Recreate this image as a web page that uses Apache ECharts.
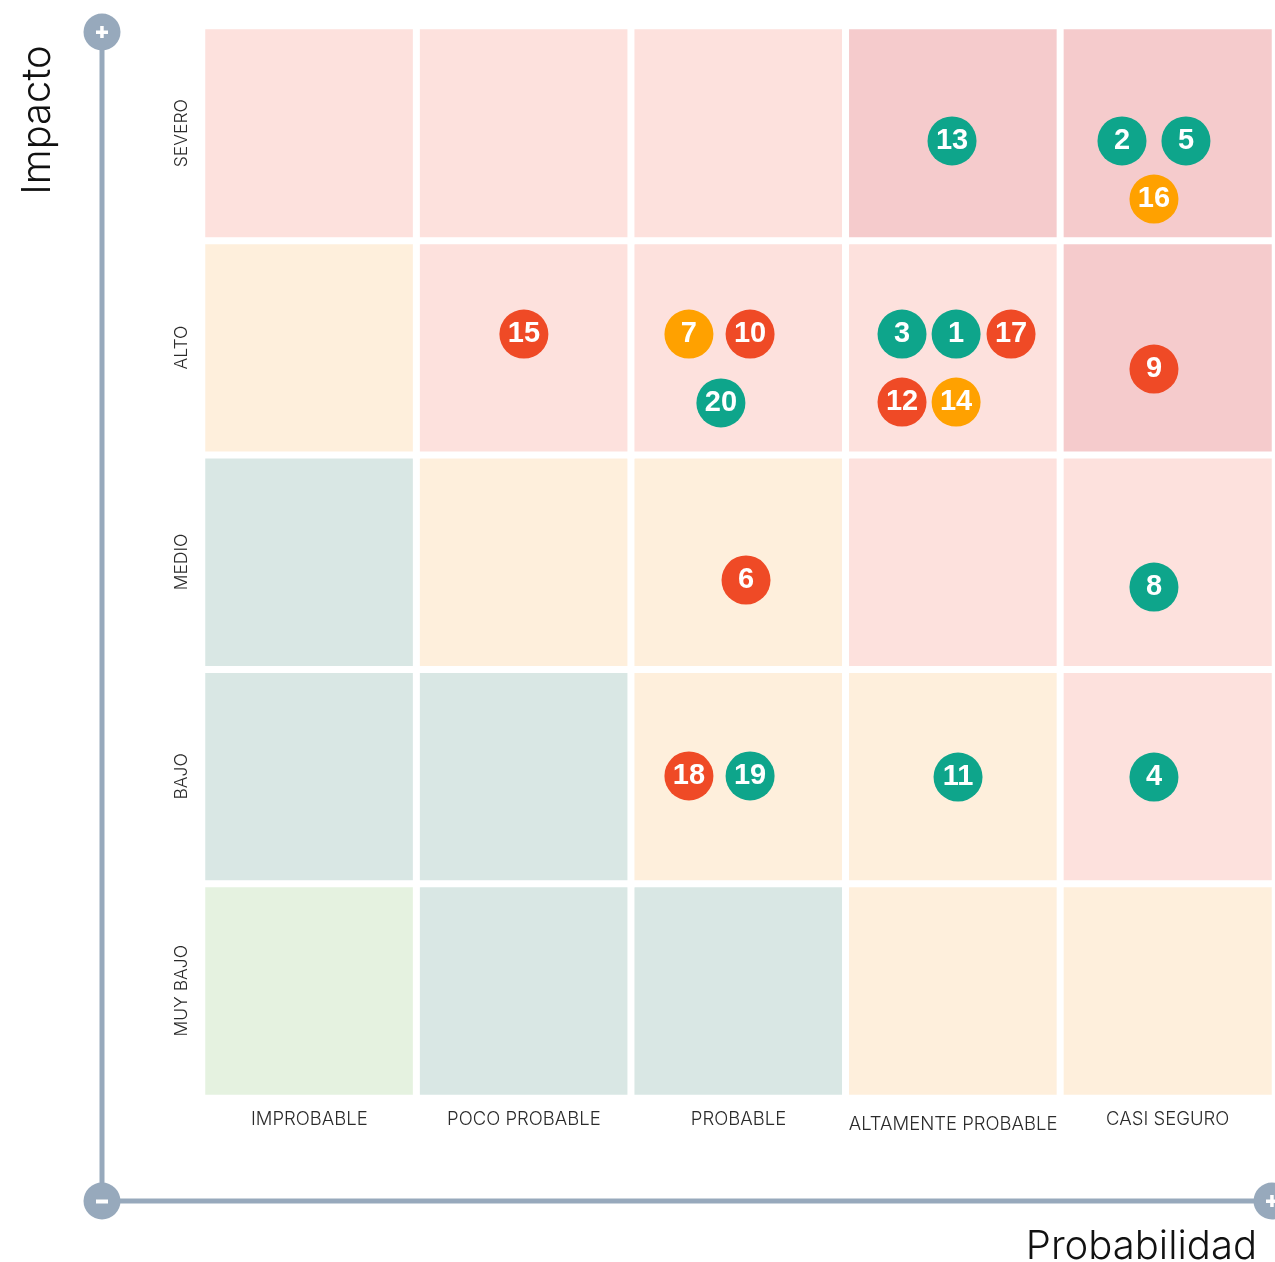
<!DOCTYPE html>
<html>
<head>
<meta charset="utf-8">
<script src="https://cdn.jsdelivr.net/npm/echarts@6/dist/echarts.min.js"></script>
<style>
html,body{margin:0;padding:0;background:#fff;}
#chart{width:1275px;height:1262px;}
</style>
</head>
<body>
<div id="chart"></div>
<script>
// Categories
const probCats = ['IMPROBABLE', 'POCO PROBABLE', 'PROBABLE', 'ALTAMENTE PROBABLE', 'CASI SEGURO'];
const impactCats = ['MUY BAJO', 'BAJO', 'MEDIO', 'ALTO', 'SEVERO']; // bottom to top

// Risk level of each matrix cell (rows: impact bottom->top, cols: probability left->right)
const levelMuyBajo = [0, 1, 1, 2, 2];
const levelBajo    = [1, 1, 2, 2, 3];
const levelMedio   = [1, 2, 2, 3, 3];
const levelAlto    = [2, 3, 3, 3, 4];
const levelSevero  = [3, 3, 3, 4, 4];
const levelRows = [levelMuyBajo, levelBajo, levelMedio, levelAlto, levelSevero];
const levelColors = ['#e5f2e0', '#d9e7e4', '#feefdc', '#fde1dd', '#f5cbcc'];

// Risks: id, position (probability, impact) in axis units, status
const riskIds  = [13, 2, 5, 16, 15, 7, 10, 20, 3, 1, 17, 12, 14, 9, 6, 8, 18, 19, 11, 4];
const riskProb = [3.495, 4.287, 4.585, 4.436, 1.500, 2.269, 2.554, 2.418, 3.262, 3.514, 3.770, 3.262, 3.514, 4.436, 2.535, 4.436, 2.269, 2.554, 3.523, 4.436];
const riskImp  = [4.464, 4.464, 4.464, 4.193, 3.563, 3.563, 3.563, 3.242, 3.563, 3.563, 3.563, 3.246, 3.246, 3.400, 2.416, 2.383, 1.502, 1.502, 1.497, 1.497];
const riskStatus = ['g','g','g','o','r','o','r','g','g','g','r','r','o','r','r','g','r','g','g','g'];
const statusColors = { g: '#0ea58b', r: '#ef4a26', o: '#ffa100' };

const heatData = [];
levelRows.forEach((row, yi) => row.forEach((lv, xi) => heatData.push([xi, yi, lv])));

function riskSeries(st) {
  const data = [];
  riskIds.forEach((id, i) => {
    if (riskStatus[i] === st) data.push({ value: [riskProb[i], riskImp[i]], name: String(id) });
  });
  return {
    type: 'scatter', xAxisIndex: 1, yAxisIndex: 1, symbol: 'circle', symbolSize: 49,
    itemStyle: { color: statusColors[st], opacity: 1 },
    label: {
      show: true, position: 'inside', formatter: p => p.name,
      color: '#fff', fontFamily: 'Liberation Sans, Arial, sans-serif', fontWeight: 'bold', fontSize: 29
    },
    emphasis: { disabled: true },
    data: data, z: 5
  };
}

const axisColor = '#97a9bc';
const lblFont = 'Inter, "Noto Sans", sans-serif';

const xCatData = probCats.map(c => c === 'ALTAMENTE PROBABLE'
  ? { value: c, textStyle: { padding: [5, 0, 0, 0] } } : c);

const chart = echarts.init(document.getElementById('chart'), null, { renderer: 'canvas' });
chart.setOption({
  animation: false,
  grid: { left: 202, top: 26, width: 1075, height: 1072 },
  xAxis: [
    { type: 'category', data: xCatData, position: 'bottom',
      axisLine: { show: false }, axisTick: { show: false }, splitLine: { show: false },
      axisLabel: { interval: 0, margin: 12, color: '#2b2b2b', fontSize: 18.5, fontFamily: lblFont, fontWeight: 300 } },
    { type: 'value', min: 0, max: 5, show: false }
  ],
  yAxis: [
    { type: 'category', data: impactCats,
      axisLine: { show: false }, axisTick: { show: false }, splitLine: { show: false },
      axisLabel: { interval: 0, rotate: 90, margin: 11, color: '#2b2b2b', fontSize: 17.5, fontFamily: lblFont, fontWeight: 300 } },
    { type: 'value', min: 0, max: 5, show: false }
  ],
  visualMap: {
    show: false, type: 'piecewise', dimension: 2, seriesIndex: 0,
    pieces: levelColors.map((c, i) => ({ value: i, color: c }))
  },
  series: [
    { type: 'heatmap', xAxisIndex: 0, yAxisIndex: 0, data: heatData,
      itemStyle: { borderColor: '#fff', borderWidth: 7 }, emphasis: { disabled: true } },
    riskSeries('g'), riskSeries('r'), riskSeries('o')
  ],
  graphic: [
    { type: 'line', shape: { x1: 102, y1: 32, x2: 102, y2: 1201 }, style: { stroke: axisColor, lineWidth: 5 } },
    { type: 'line', shape: { x1: 102, y1: 1201, x2: 1272, y2: 1201 }, style: { stroke: axisColor, lineWidth: 5 } },
    { type: 'circle', shape: { cx: 102, cy: 32, r: 18.5 }, style: { fill: axisColor } },
    { type: 'rect', shape: { x: 96, y: 30.5, width: 12, height: 3.5 }, style: { fill: '#fff' } },
    { type: 'rect', shape: { x: 100.2, y: 26, width: 3.5, height: 12 }, style: { fill: '#fff' } },
    { type: 'circle', shape: { cx: 102, cy: 1201, r: 18.5 }, style: { fill: axisColor } },
    { type: 'rect', shape: { x: 96, y: 1199.5, width: 12, height: 4 }, style: { fill: '#fff' } },
    { type: 'circle', shape: { cx: 1272, cy: 1201, r: 18.5 }, style: { fill: axisColor } },
    { type: 'rect', shape: { x: 1266, y: 1199.5, width: 12, height: 3.5 }, style: { fill: '#fff' } },
    { type: 'rect', shape: { x: 1270.2, y: 1195, width: 3.5, height: 12 }, style: { fill: '#fff' } },
    { type: 'text', x: 38, y: 120, rotation: Math.PI / 2,
      style: { text: 'Impacto', fill: '#111', font: '300 40px Inter, "Noto Sans", sans-serif', textAlign: 'center', textVerticalAlign: 'middle' } },
    { type: 'text', x: 1257, y: 1247,
      style: { text: 'Probabilidad', fill: '#111', font: '300 40px Inter, "Noto Sans", sans-serif', textAlign: 'right', textVerticalAlign: 'middle' } }
  ]
});
</script>
</body>
</html>
